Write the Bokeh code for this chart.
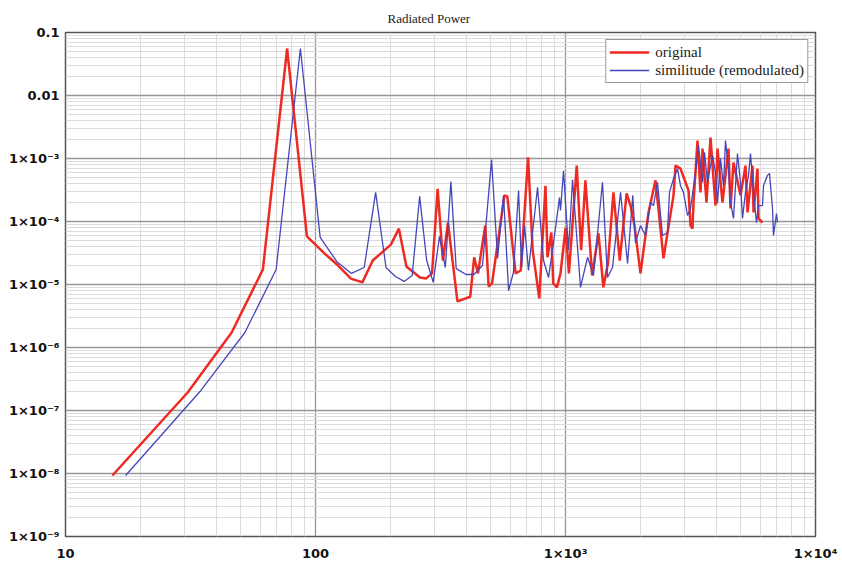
from bokeh.plotting import figure
from bokeh.models import FixedTicker, CustomJSTickFormatter, Legend, LegendItem
from bokeh.embed import file_html
from bokeh.resources import INLINE

# ---- data ----
red_freq = [15.4, 30.8, 46.2, 61.6, 77.0, 92.4, 107.8, 123.2, 138.6, 154.0, 169.4, 200.2, 215.6, 231.0,
            261.8, 277.2, 292.6, 308.0, 323.4, 338.8, 369.6, 415.8, 431.2, 446.6, 477.4, 492.8, 508.2,
            569.8, 585.2, 631.4, 662.2, 708.4, 739.2, 785.4, 831.6, 847.0, 877.8, 893.2, 924.0, 954.8,
            1001, 1032, 1109, 1155, 1201, 1278, 1355, 1417, 1478, 1555, 1648, 1756,
            1820, 1888, 1995, 2148, 2291, 2466, 2704, 2754, 2884, 3105, 3162, 3221, 3251, 3373, 3467,
            3532, 3664, 3802, 3981, 4055, 4246, 4487, 4571, 4699, 5012, 5248, 5346, 5598, 5649, 5861,
            5916, 6138]
red_power = [9.3e-9, 1.93e-7, 1.73e-6, 1.73e-5, 0.0557, 5.8e-5, 3.2e-5, 2.0e-5, 1.24e-5, 1.08e-5, 2.4e-5,
             4.3e-5, 7.7e-5, 1.93e-5, 1.29e-5, 1.25e-5, 1.5e-5, 3.3e-4, 2.4e-5, 9.6e-5, 5.4e-6, 6.4e-6,
             2.7e-5, 1.5e-5, 8.6e-5, 9.3e-6, 1.04e-5, 2.6e-4, 2.5e-4, 1.5e-5, 1.67e-5, 1.04e-3, 3.5e-5,
             6.0e-6, 3.7e-4, 2.7e-5, 6.7e-5, 1.04e-5, 9.0e-6, 1.5e-5, 8.0e-5, 1.5e-5, 7.7e-4, 3.5e-5,
             4.5e-4, 1.39e-5, 6.5e-5, 9.0e-6, 2.15e-5, 2.9e-4, 2.4e-5, 2.8e-4,
             1.79e-4, 8.6e-5, 1.5e-5, 1.39e-4, 4.5e-4, 2.6e-5, 2.6e-4, 7.7e-4, 6.9e-4, 3.1e-4, 8.6e-5,
             7.7e-5, 2.0e-4, 1.93e-3, 2.9e-4, 1.44e-3, 2.0e-4, 2.15e-3, 1.79e-4, 1.44e-3, 2.0e-4, 1.44e-3,
             1.61e-4, 8.6e-4, 2.6e-4, 7.7e-4, 1.39e-4, 7.7e-4, 1.39e-4, 6.9e-4, 1.12e-4, 9.6e-5]

blue_freq = [17.4, 34.8, 52.2, 69.6, 87.0, 104.4, 121.8, 139.2, 156.6, 174.0, 191.4, 208.8, 226.2, 243.6,
             261.0, 278.4, 295.8, 313.2, 330.6, 348.0, 365.4, 400.2, 430, 465.6, 506, 535, 565, 592, 619,
             649, 667, 686, 711, 773, 817, 855, 895, 946, 955, 982, 1028, 1067, 1148, 1225, 1294, 1406,
             1472, 1542, 1660, 1771, 1858,
             1905, 1995, 2089, 2188, 2249, 2333, 2443, 2559, 2606, 2704, 2805, 2884, 2965, 3076, 3162,
             3311, 3404, 3532, 3597, 3698, 3873, 3981, 4055, 4169, 4286, 4365, 4487, 4571, 4699, 4875,
             5012, 5105, 5248, 5395, 5495, 5649, 5808, 5916, 6138, 6194, 6427, 6546, 6730, 6792, 6982,
             7047]
blue_power = [9.3e-9, 2.08e-7, 1.73e-6, 1.73e-5, 0.0557, 5.6e-5, 2.3e-5, 1.5e-5, 1.86e-5, 2.9e-4, 1.86e-5,
              1.34e-5, 1.12e-5, 1.39e-5, 2.5e-4, 2.4e-5, 1.08e-5, 5.8e-5, 1.86e-5, 4.3e-4, 1.79e-5,
              1.44e-5, 1.44e-5, 2.0e-5, 9.6e-4, 2.6e-5, 2.6e-4, 8.0e-6, 1.55e-5, 3.1e-4, 1.86e-5, 8.6e-5,
              1.67e-5, 3.5e-4, 2.4e-5, 1.29e-5, 4.5e-5, 2.4e-4, 1.5e-4, 6.4e-4, 3.5e-5, 4.6e-4, 9.0e-6,
              2.7e-5, 1.39e-5, 4.2e-4, 1.29e-5, 1.86e-5, 2.9e-4, 2.15e-5, 2.6e-4,
              4.6e-5, 8.6e-5, 6.0e-5, 2.0e-4, 1.79e-4, 4.2e-4, 6.0e-5, 6.7e-5, 2.9e-4, 4.8e-4, 6.9e-4,
              3.7e-4, 2.9e-4, 1.25e-4, 1.61e-4, 6.0e-4, 1.61e-3, 4.2e-4, 1.25e-3, 4.2e-4, 1.12e-3, 6.0e-4,
              1.93e-4, 1.0e-3, 3.7e-4, 1.93e-3, 6.9e-4, 2.0e-4, 1.12e-4, 1.2e-3, 4.2e-4, 1.12e-4, 2.9e-4,
              5.4e-4, 1.2e-3, 2.9e-4, 9.6e-5, 1.79e-4, 1.79e-4, 3.7e-4, 5.4e-4, 5.8e-4, 1.61e-4, 6.0e-5,
              1.34e-4, 9.6e-5]

x_ticks = [10, 100, 1000, 10000]
x_tick_labels = ["10", "100", "1\u00d710\u00b3", "1\u00d710\u2074"]
y_ticks = [1e-9, 1e-8, 1e-7, 1e-6, 1e-5, 1e-4, 1e-3, 1e-2, 1e-1]
y_tick_labels = ["1\u00d710\u207b\u2079", "1\u00d710\u207b\u2078", "1\u00d710\u207b\u2077",
                 "1\u00d710\u207b\u2076", "1\u00d710\u207b\u2075", "1\u00d710\u207b\u2074",
                 "1\u00d710\u207b\u00b3", "0.01", "0.1"]

title_text = "Radiated Power"
series_names = ["original", "similitude (remodulated)"]

# ---- figure ----
p = figure(width=842, height=571, x_axis_type="log", y_axis_type="log",
           x_range=(10, 1e4), y_range=(1e-9, 0.1),
           output_backend="svg", toolbar_location=None,
           min_border_left=65, min_border_right=27, min_border_top=32, min_border_bottom=35)
p.background_fill_color = "white"
p.border_fill_color = "white"
p.outline_line_color = "#555555"
p.outline_line_width = 1.5

p.title.text = title_text
p.title.align = "left"
p.title.offset = 322
p.title.text_font = "Liberation Serif"
p.title.text_font_size = "13px"
p.title.text_font_style = "normal"
p.title.text_color = "#222222"
p.title.standoff = 14

x_minor = [m * 10 ** e for e in range(1, 4) for m in range(2, 10)]
y_minor = [m * 10.0 ** e for e in range(-9, -1) for m in range(2, 10)]
p.xaxis.ticker = FixedTicker(ticks=x_ticks, minor_ticks=x_minor)
p.yaxis.ticker = FixedTicker(ticks=y_ticks, minor_ticks=y_minor)

fmt_code = """
let best = 0; let bd = 1e9;
for (let i = 0; i < tvals.length; i++) {
  const d = Math.abs(Math.log10(tvals[i]) - Math.log10(tick));
  if (d < bd) { bd = d; best = i; }
}
return tlabels[best];
"""
p.xaxis.formatter = CustomJSTickFormatter(args=dict(tvals=x_ticks, tlabels=x_tick_labels), code=fmt_code)
p.yaxis.formatter = CustomJSTickFormatter(args=dict(tvals=y_ticks, tlabels=y_tick_labels), code=fmt_code)

for ax in (p.xaxis, p.yaxis):
    ax.axis_line_color = None
    ax.major_tick_line_color = None
    ax.minor_tick_line_color = None
    ax.major_tick_out = 0
    ax.major_tick_in = 0
    ax.minor_tick_out = 0
    ax.major_label_text_font = "DejaVu Sans"
    ax.major_label_text_font_style = "bold"
    ax.major_label_text_font_size = "13px"
    ax.major_label_text_color = "#111111"
p.yaxis.major_label_standoff = 6
p.xaxis.major_label_standoff = 9

for g in (p.xgrid, p.ygrid):
    g.grid_line_color = "#969696"
    g.grid_line_width = 1.3
    g.minor_grid_line_color = "#dcdcdc"
    g.minor_grid_line_width = 1

r1 = p.line(red_freq, red_power, line_color="#ee2a22", line_width=2.5)
r2 = p.line(blue_freq, blue_power, line_color="#4646bb", line_width=1.3)

legend = Legend(items=[LegendItem(label=series_names[0], renderers=[r1]),
                       LegendItem(label=series_names[1], renderers=[r2])],
                location="top_right")
legend.margin = 7
legend.padding = 3
legend.spacing = 0
legend.label_height = 18
legend.glyph_height = 18
legend.glyph_width = 40
legend.label_standoff = 6
legend.label_text_font = "Liberation Serif"
legend.label_text_font_size = "15px"
legend.label_text_color = "#222222"
legend.border_line_color = "#333333"
legend.border_line_width = 1.5
legend.background_fill_color = "white"
legend.background_fill_alpha = 1.0
p.add_layout(legend, "center")

open("out.html", "w").write(file_html(p, INLINE))
